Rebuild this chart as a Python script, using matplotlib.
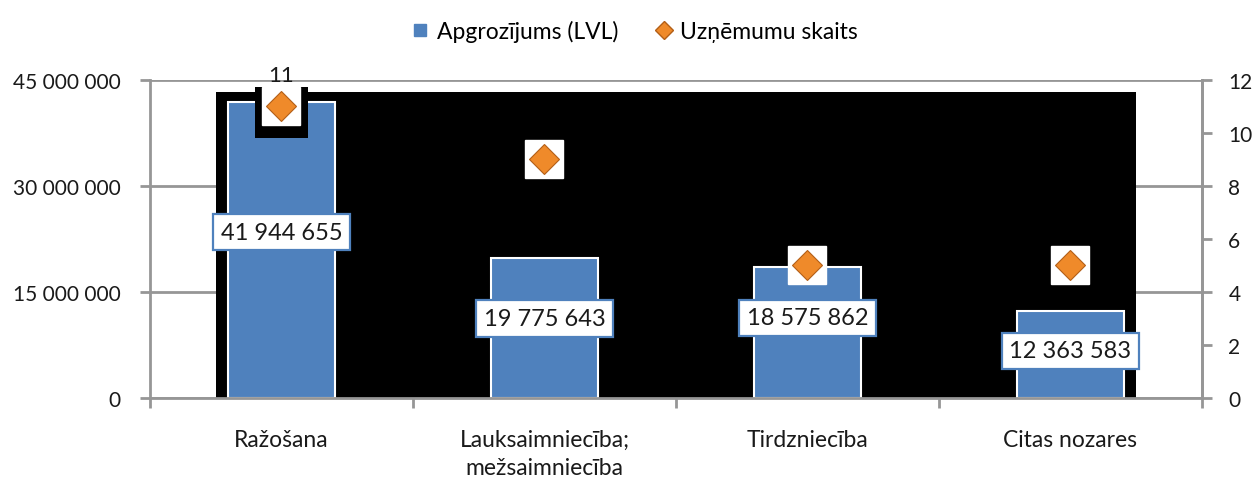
import matplotlib.pyplot as plt
import matplotlib.patches as mpatches
from matplotlib.lines import Line2D
from matplotlib.ticker import FixedLocator, FuncFormatter

# ============================================================
# Data
# ============================================================

CATEGORIES = ["Ražošana", "Lauksaimniecība;\nmežsaimniecība", "Tirdzniecība", "Citas nozares"]
TURNOVER = [41944655, 19775643, 18575862, 12363583]
COMPANIES = [11, 9, 5, 5]

# where the value box sits, as share of the bar height
LABEL_FRAC = [0.56, 0.57, 0.61, 0.54]

BLUE = "#4F81BD"
ORANGE = "#EF8A2A"
ORANGE_EDGE = "#B35F17"
GRID = "#969696"
TEXT = "#1a1a1a"

plt.rcParams["font.family"] = ["Lato", "DejaVu Sans"]
plt.rcParams["font.size"] = 15


def spaced(v, pos=None):
    return f"{int(v):,}".replace(",", " ")


# ============================================================
# Plot
# ============================================================

fig = plt.figure(figsize=(12.54, 4.81), dpi=100)
ax = fig.add_axes([0.1196, 0.1705, 0.8389, 0.6611])
x = list(range(len(CATEGORIES)))

ax.set_xlim(-0.5, len(CATEGORIES) - 0.5)
ax.set_ylim(0, 45e6)

# odd black plot area from the original export
ax.add_patch(mpatches.Rectangle((-0.25, 0), 3.5, 43.3e6, facecolor="black",
                                edgecolor="none", zorder=1))

ax.bar(x, TURNOVER, width=0.41, color=BLUE, edgecolor="white",
       linewidth=1.5, zorder=2)

for i, v in enumerate(TURNOVER):
    ax.text(i, v * LABEL_FRAC[i], spaced(v), ha="center", va="center",
            fontsize=17, color=TEXT, zorder=4,
            bbox=dict(boxstyle="square,pad=0.33", facecolor="white",
                      edgecolor=BLUE, linewidth=1.6))

# left axis
ax.yaxis.set_major_locator(FixedLocator([0, 15e6, 30e6, 45e6]))
ax.yaxis.set_major_formatter(FuncFormatter(spaced))
ax.grid(True, axis="y", color=GRID, linewidth=2, zorder=0)
ax.set_axisbelow(True)
ax.tick_params(axis="y", which="major", direction="out", length=7,
               width=2, color=GRID, pad=14, labelcolor=TEXT)

# x axis: labels at the centres, ticks between categories
ax.set_xticks(x)
ax.set_xticklabels(CATEGORIES, linespacing=1.45, fontsize=16.5)
ax.xaxis.set_minor_locator(FixedLocator([i - 0.5 for i in range(len(CATEGORIES) + 1)]))
ax.tick_params(axis="x", which="major", length=0, pad=22, labelcolor=TEXT)
ax.tick_params(axis="x", which="minor", direction="out", length=7,
               width=2, color=GRID)

for side in ["left", "bottom", "right"]:
    ax.spines[side].set_color(GRID)
    ax.spines[side].set_linewidth(2)
ax.spines["top"].set_visible(False)

# right axis with company counts
ax2 = ax.twinx()
ax2.set_ylim(0, 12)
ax2.set_yticks(range(0, 13, 2))
ax2.tick_params(axis="y", direction="out", length=7, width=2, color=GRID,
                pad=12, labelcolor=TEXT)
ax2.spines["right"].set_color(GRID)
ax2.spines["right"].set_linewidth(2)
for side in ["left", "top", "bottom"]:
    ax2.spines[side].set_visible(False)

# black frame behind the first marker (export artefact)
ax2.add_patch(mpatches.Rectangle((x[0] - 0.1, COMPANIES[0] - 1.2), 0.2, 1.95,
                                 facecolor="black", edgecolor="none",
                                 zorder=2, clip_on=False))
ax2.plot(x, COMPANIES, marker="s", markersize=27, color="white",
         linestyle="none", zorder=3)
ax2.plot(x, COMPANIES, marker="D", markersize=15, markerfacecolor=ORANGE,
         markeredgecolor=ORANGE_EDGE, markeredgewidth=0.8,
         linestyle="none", zorder=4)
ax2.text(x[0], COMPANIES[0] + 1.2, str(COMPANIES[0]), ha="center",
         va="center", fontsize=16, color=TEXT, zorder=5, clip_on=False)

# ============================================================
# Legend
# ============================================================

handles = [
    Line2D([], [], marker="s", markersize=9, color=BLUE, linestyle="none",
           label="Apgrozījums (LVL)"),
    Line2D([], [], marker="D", markersize=9, markerfacecolor=ORANGE,
           markeredgecolor=ORANGE_EDGE, linestyle="none",
           label="Uzņēmumu skaits"),
]
fig.legend(handles=handles, loc="upper center", bbox_to_anchor=(0.505, 1.0),
           ncol=2, frameon=False, handletextpad=0.2, columnspacing=1.5,
           handlelength=1.0, fontsize=16.5)

plt.savefig("out.png", dpi=100)
